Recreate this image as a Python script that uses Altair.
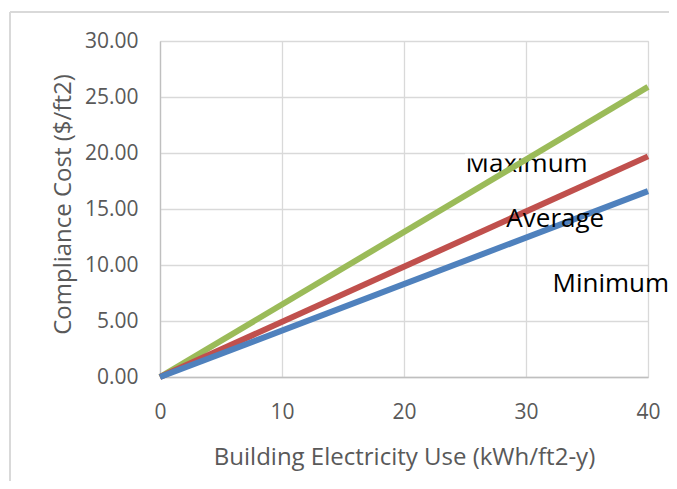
import altair as alt
import pandas as pd

# Data
x_vals = [0, 40]
min_vals = [0.0, 16.6]
avg_vals = [0.0, 19.7]
max_vals = [0.0, 25.9]
series_names = ["Maximum", "Average", "Minimum"]
series_colors = ["#9BBB59", "#C0504D", "#4F81BD"]

x_ticks = [0, 10, 20, 30, 40]
y_ticks = [0, 5, 10, 15, 20, 25, 30]

label_texts = ["Maximum", "Average", "Minimum"]
label_x = [30.05, 32.4, 36.95]
label_y = [18.3, 13.4, 7.6]

# band hiding the top of the "Maximum" label (as in the reference)
mask_x = [25.0, 35.0]
mask_y = [19.5, 19.93]

FONT = "Open Sans"

rows = []
for name, vals in zip(series_names, [max_vals, avg_vals, min_vals]):
    for xv, yv in zip(x_vals, vals):
        rows.append({"series": name, "x": xv, "y": yv})
df = pd.DataFrame(rows)

labels = pd.DataFrame({"text": label_texts, "x": label_x, "y": label_y})
mask_df = pd.DataFrame({"x": [mask_x[0]], "x2": [mask_x[1]], "y": [mask_y[0]], "y2": [mask_y[1]]})

xscale = alt.Scale(domain=[0, 40], nice=False, zero=False)
yscale = alt.Scale(domain=[0, 30], nice=False)

x_axis = alt.Axis(values=x_ticks, title="Building Electricity Use (kWh/ft2-y)",
                  grid=True, gridColor="#D9D9D9", gridWidth=1.3,
                  domainColor="#BFBFBF", domainWidth=1.3, ticks=False,
                  labelFlush=False,
                  labelPadding=24, labelFontSize=21, labelColor="#595959",
                  titleFontSize=24, titleColor="#595959", titleFontWeight="normal",
                  titleX=244, titleY=80, titleBaseline="middle", titleAlign="center",
                  labelFont=FONT, titleFont=FONT)
y_axis = alt.Axis(values=y_ticks, format=".2f", title="Compliance Cost ($/ft2)",
                  grid=True, gridColor="#D9D9D9", gridWidth=1.3,
                  domainColor="#BFBFBF", domainWidth=1.3, ticks=False,
                  labelFlush=False,
                  labelPadding=22, labelFontSize=21, labelColor="#595959",
                  titleFontSize=24, titleColor="#595959", titleFontWeight="normal",
                  titleX=-97, titleY=163, titleBaseline="middle", titleAlign="center",
                  labelFont=FONT, titleFont=FONT)

lines = alt.Chart(df).mark_line(strokeWidth=6, strokeCap="butt").encode(
    x=alt.X("x:Q", scale=xscale, axis=x_axis),
    y=alt.Y("y:Q", scale=yscale, axis=y_axis),
    color=alt.Color("series:N", scale=alt.Scale(domain=series_names, range=series_colors), legend=None),
    order=alt.Order("x:Q"),
)

text_style = dict(fontSize=26, font=FONT, color="#000000", align="center", baseline="alphabetic")

max_label = alt.Chart(labels[labels.text == "Maximum"]).mark_text(**text_style).encode(
    x=alt.X("x:Q", scale=xscale), y=alt.Y("y:Q", scale=yscale), text="text:N")

mask = alt.Chart(mask_df).mark_rect(color="white").encode(
    x=alt.X("x:Q", scale=xscale), x2="x2:Q",
    y=alt.Y("y:Q", scale=yscale), y2="y2:Q")

other_labels = alt.Chart(labels[labels.text != "Maximum"]).mark_text(**text_style).encode(
    x=alt.X("x:Q", scale=xscale), y=alt.Y("y:Q", scale=yscale), text="text:N")

frame_left = alt.Chart(labels).mark_rule(color="#D9D9D9", strokeWidth=1.5).encode(
    x=alt.value(-150), y=alt.value(-29), y2=alt.value(440))
frame_top = alt.Chart(labels).mark_rule(color="#D9D9D9", strokeWidth=1.5).encode(
    x=alt.value(-150), x2=alt.value(509), y=alt.value(-29))

chart = alt.layer(max_label, mask, lines, other_labels, frame_left, frame_top).properties(
    width=488, height=336,
    autosize=alt.AutoSizeParams(type="none"),
    padding={"left": 152, "top": 33, "right": 21, "bottom": 104},
).configure_view(stroke=None).configure(background="white")

chart.save("out.html", embed_options={"renderer": "svg", "actions": False})
